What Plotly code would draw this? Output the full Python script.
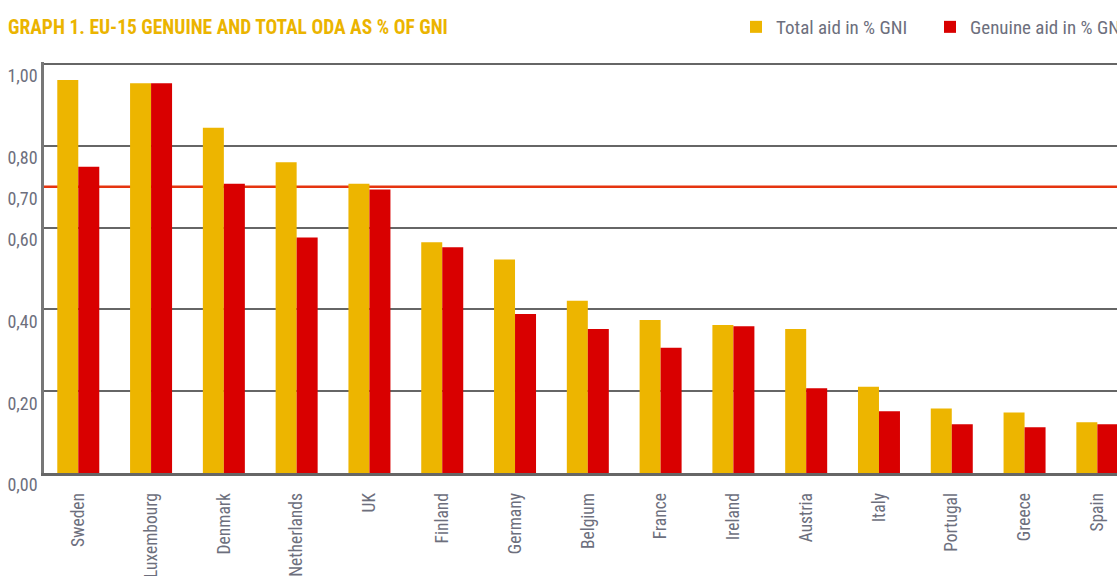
import plotly.graph_objects as go

countries = ["Sweden", "Luxembourg", "Denmark", "Netherlands", "UK", "Finland", "Germany",
             "Belgium", "France", "Ireland", "Austria", "Italy", "Portugal", "Greece", "Spain"]
total_aid = [0.961, 0.953, 0.844, 0.760, 0.707, 0.564, 0.522, 0.421, 0.374, 0.362, 0.352,
             0.211, 0.158, 0.148, 0.124]
genuine_aid = [0.749, 0.953, 0.707, 0.576, 0.693, 0.552, 0.389, 0.352, 0.306, 0.359, 0.207,
               0.151, 0.119, 0.112, 0.119]
y_tick_values = [0.0, 0.2, 0.4, 0.6, 0.7, 0.8, 1.0]
y_tick_labels = ["0,00", "0,20", "0,40", "0,60", "0,70", "0,80", "1,00"]
grid_values = [0.2, 0.4, 0.6, 0.8, 1.0]
target_level = 0.70

TITLE = "GRAPH 1. EU-15 GENUINE AND TOTAL ODA AS % OF GNI"
YELLOW = "#EDB500"
RED = "#D90000"
TEXT = "#6d6f7d"
GRID = "#666666"
FONT = "Roboto, Open Sans, sans-serif"

fig = go.Figure()
fig.add_trace(go.Bar(x=countries, y=total_aid, name="Total aid in % GNI",
                     marker=dict(color=YELLOW, line=dict(width=0))))
fig.add_trace(go.Bar(x=countries, y=genuine_aid, name="Genuine aid in % GNI",
                     marker=dict(color=RED, line=dict(width=0))))

# red 0.70 target line, behind the bars
fig.add_hline(y=target_level, line=dict(color="#E5340F", width=2.5), layer="below")

fig.update_layout(
    width=1117, height=576,
    margin=dict(l=44, r=0, t=62, b=103, autoexpand=False),
    paper_bgcolor="white", plot_bgcolor="white",
    font=dict(family=FONT, color=TEXT),
    barmode="group", bargap=0.423, bargroupgap=0,
    title=dict(text="<b>" + TITLE + "</b>", x=8 / 1117, xref="container", xanchor="left",
               y=1 - 27 / 576, yref="container", yanchor="middle",
               font=dict(family=FONT, size=19.5, color="#EBB400")),
    legend=dict(orientation="h", xref="container", x=736 / 1117, xanchor="left",
                yref="container", y=1 - 27 / 576, yanchor="middle",
                entrywidth=149, entrywidthmode="pixels",
                font=dict(family=FONT, size=19, color=TEXT), bgcolor="rgba(0,0,0,0)",
                itemwidth=30, tracegroupgap=0),
    showlegend=True,
)

fig.update_xaxes(type="category", range=[-0.471, 14.27], tickangle=-90, automargin=False,
                 showgrid=False, showline=True, linecolor=GRID, linewidth=3,
                 ticks="", ticklabelstandoff=10,
                 tickfont=dict(family=FONT, size=17.5, color=TEXT))
fig.update_yaxes(range=[0, 1.005], tickvals=y_tick_values, ticktext=y_tick_labels, automargin=False,
                 showgrid=False, zeroline=False,
                 minor=dict(tickvals=grid_values, showgrid=True, gridcolor=GRID, gridwidth=2, ticks=""),
                 showline=True, linecolor="#777777", linewidth=2.5,
                 ticks="", ticklabelstandoff=0, ticklabelshift=12,
                 tickfont=dict(family=FONT, size=18, color=TEXT))

# condensed text face (the reference uses a condensed typeface); page without body margin
page_js = """
document.body.style.margin = '0';
var st = document.createElement('style');
st.textContent = '.js-plotly-plot svg text, .js-plotly-plot svg tspan { font-stretch: 75% !important; }';
document.head.appendChild(st);
"""
fig.write_html("out.html", post_script=page_js, config={"displayModeBar": False})
